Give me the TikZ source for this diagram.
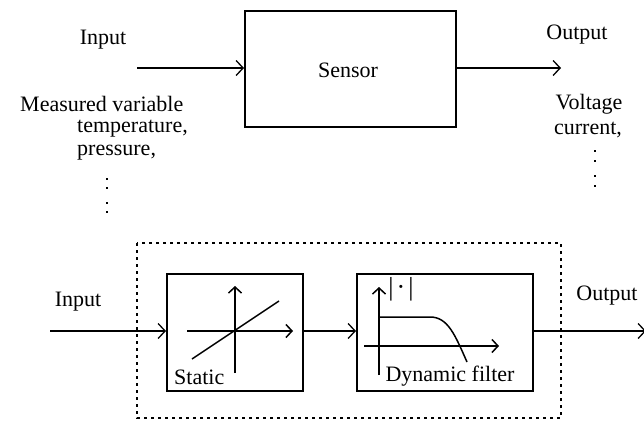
\documentclass[tikz,border=0pt]{standalone}
\usepackage{fontspec}
\setmainfont{Liberation Serif}
\usetikzlibrary{arrows.meta}
\begin{document}
\begin{tikzpicture}[x=1pt,y=-1pt,
  txt/.style={font=\fontsize{22}{25}\selectfont, inner sep=0pt},
  blk/.style={draw, line width=2pt, inner sep=0pt},
  conn/.style={line width=1.3pt, -{Straight Barb[length=7pt,width=15pt,line width=1.3pt]}},
  axis/.style={line width=1.5pt, -{Straight Barb[length=6pt,width=13pt,line width=1.5pt]}},
  dotbox/.style={draw, line width=2.6pt, dash pattern=on 2.6pt off 4.4pt},
  vdot/.style={fill, inner sep=0pt, minimum size=2.8pt, rectangle}
]
\useasboundingbox (0,0) rectangle (644,420);
% ---- top part ----
\node[blk, minimum width=211pt, minimum height=116pt, anchor=north west] (sensor) at (244,10) {};
\node[txt] (sensortxt) at (348,70) {Sensor};
\coordinate (inL) at (137,68);
\coordinate (outR) at (561,68);
\draw[conn] (inL) -- (sensor.west |- inL);
\draw[conn] (sensor.east |- outR) -- (outR);
\node[txt] (input1) at (103,40) {Input};
\node[txt] (output1) at (577,35) {Output};
\node[txt, anchor=west] (meas) at (20,104) {Measured variable};
\node[txt, anchor=west] (temp) at (77,129) {temperature,};
\node[txt, anchor=west] (press) at (77,153) {pressure,};
\node[txt] (volt) at (589,104) {Voltage};
\node[txt] (curr) at (588,130) {current,};
\foreach \yy [count=\i] in {179,188,203,212} \node[vdot] (ld\i) at (107,\yy) {};
\foreach \yy [count=\i] in {151,161,176,186} \node[vdot] (rd\i) at (595,\yy) {};
% ---- bottom part ----
\draw[dotbox] (137,243) rectangle (561,418);
\node[blk, minimum width=136pt, minimum height=117pt, anchor=north west] (static) at (166,273) {};
\node[blk, minimum width=176pt, minimum height=117pt, anchor=north west] (dyn) at (356,273) {};
\coordinate (in2) at (50,331);
\coordinate (out2) at (646,331);
\draw[conn] (in2) -- (static.west |- in2);
\draw[conn] (static.east |- in2) -- (dyn.west |- in2);
\draw[conn] (dyn.east |- in2) -- (out2);
\node[txt] (input2) at (78,302) {Input};
\node[txt] (output2) at (607,296) {Output};
% static internals
\coordinate (sv0) at (235,373);
\coordinate (sv1) at (235,286);
\coordinate (sh0) at (187,331);
\coordinate (sh1) at (293,331);
\draw[axis] (sv0) -- (sv1);
\draw[axis] (sh0) -- (sh1);
\coordinate (sd0) at (192,359);
\coordinate (sd1) at (279,301);
\draw[line width=1.5pt] (sd0) -- (sd1);
\node[txt, anchor=west] (stattxt) at (174,377) {Static};
% dynamic internals
\coordinate (dv0) at (379,375);
\coordinate (dv1) at (379,287);
\coordinate (dh0) at (364,346);
\coordinate (dh1) at (499,346);
\draw[axis] (dv0) -- (dv1);
\draw[axis] (dh0) -- (dh1);
\coordinate (c0) at (379,317);
\coordinate (c1) at (430,317);
\coordinate (c2) at (467,362);
\draw[line width=1.5pt] (c0) -- (c1) .. controls (448,317) and (455,335) .. (c2);
\node[txt, font=\fontsize{26}{28}\selectfont] (abs) at (401,289) {|\kern3pt·\kern3pt|};
\node[txt] (dyntxt) at (450,376) {Dynamic filter};
\end{tikzpicture}
\end{document}
